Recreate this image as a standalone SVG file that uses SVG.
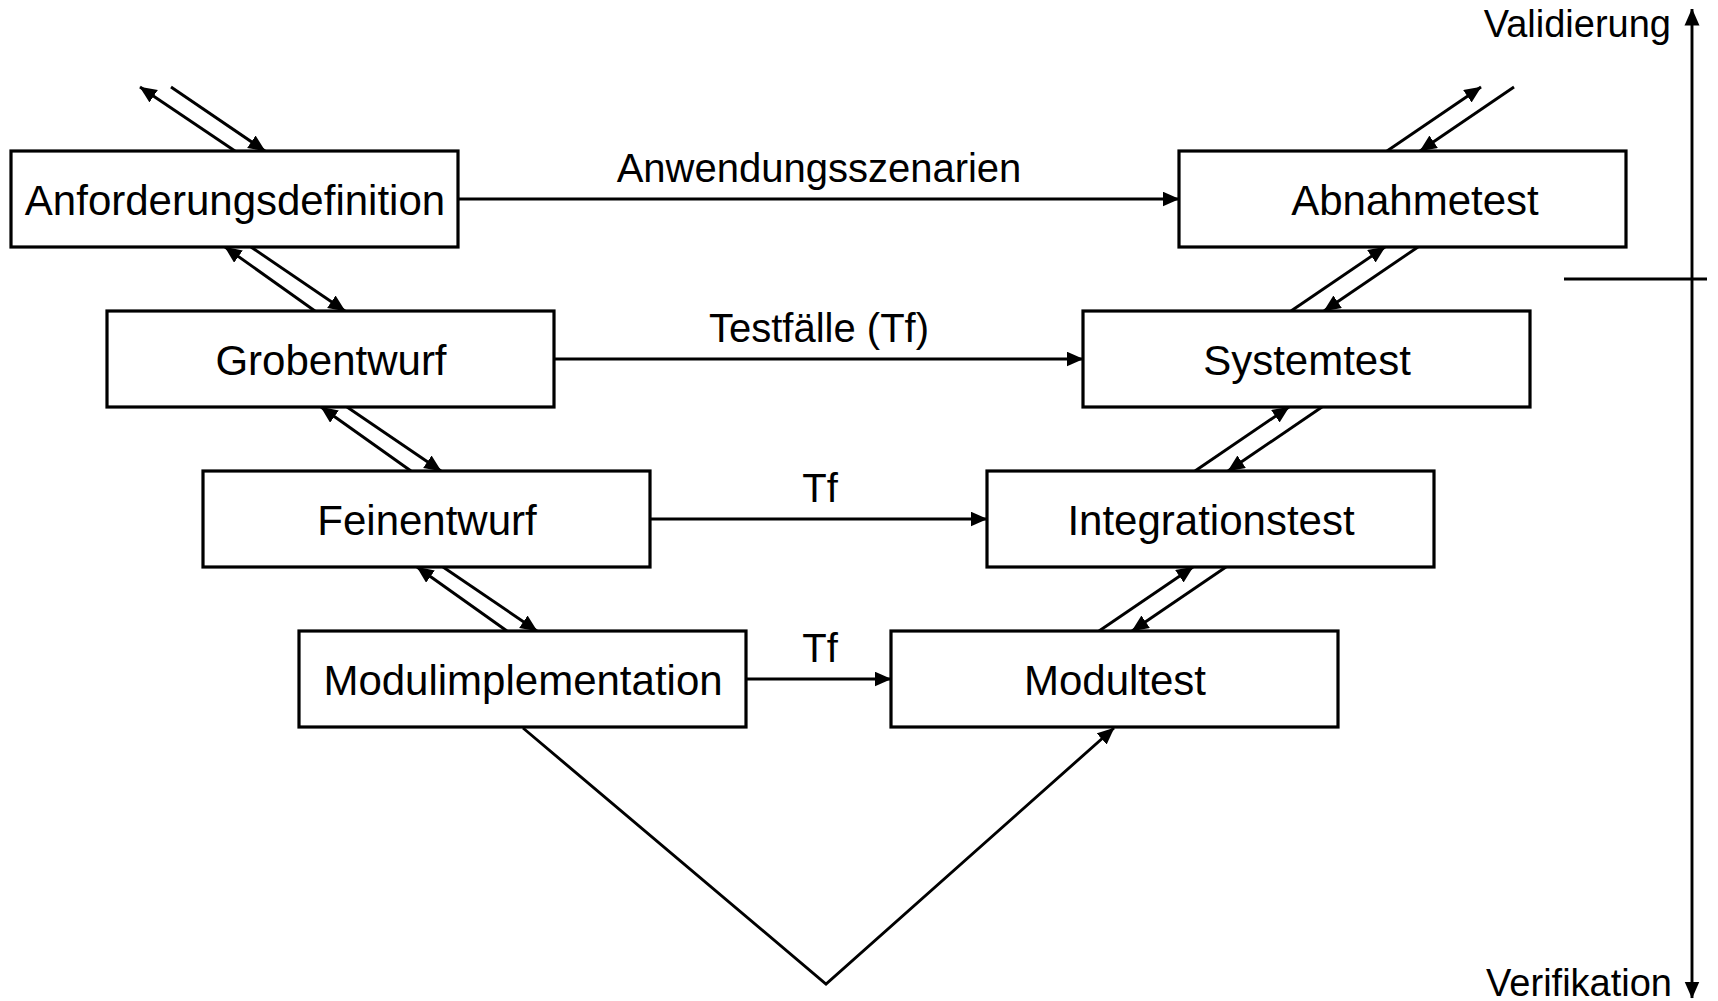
<svg xmlns="http://www.w3.org/2000/svg" width="1718" height="1001" viewBox="0 0 1718 1001">
<style>
.box{fill:#fff;stroke:#000;stroke-width:3.2}
.lbl{font-family:"Liberation Sans",Arial,sans-serif;font-size:42px;fill:#000;text-anchor:middle}
.edge{font-family:"Liberation Sans",Arial,sans-serif;font-size:40px;fill:#000;text-anchor:middle}
.axis{font-family:"Liberation Sans",Arial,sans-serif;font-size:38px;fill:#000;text-anchor:end}
.ln{stroke:#000;stroke-width:2.9;fill:none}
.arr{marker-end:url(#ah)}
</style>
<defs>
<marker id="ah" markerUnits="userSpaceOnUse" markerWidth="18" markerHeight="16" refX="16.5" refY="7.5" orient="auto">
<path d="M0,0 L17,7.5 L0,15 z" fill="#000"/>
</marker>
<marker id="ahs" markerUnits="userSpaceOnUse" markerWidth="18" markerHeight="16" refX="0.5" refY="7.5" orient="auto">
<path d="M17,0 L0,7.5 L17,15 z" fill="#000"/>
</marker>
</defs>
<rect width="1718" height="1001" fill="#fff"/>

<g id="connectors">
<!-- horizontal -->
<line class="ln arr" x1="458" y1="199" x2="1179" y2="199"/>
<line class="ln arr" x1="554" y1="359" x2="1083" y2="359"/>
<line class="ln arr" x1="650" y1="519" x2="987" y2="519"/>
<line class="ln arr" x1="746" y1="679" x2="891" y2="679"/>
<!-- left diagonals -->
<line class="ln arr" x1="235" y1="151" x2="140" y2="87"/>
<line class="ln arr" x1="171" y1="87" x2="265" y2="151"/>
<line class="ln arr" x1="315" y1="311" x2="225" y2="247"/>
<line class="ln arr" x1="251" y1="247" x2="345" y2="311"/>
<line class="ln arr" x1="411" y1="471" x2="321" y2="407"/>
<line class="ln arr" x1="347" y1="407" x2="441" y2="471"/>
<line class="ln arr" x1="507" y1="631" x2="417" y2="567"/>
<line class="ln arr" x1="443" y1="567" x2="537" y2="631"/>
<!-- right diagonals -->
<line class="ln arr" x1="1387" y1="151" x2="1481" y2="87"/>
<line class="ln arr" x1="1514" y1="87" x2="1420" y2="151"/>
<line class="ln arr" x1="1291" y1="311" x2="1385" y2="247"/>
<line class="ln arr" x1="1418" y1="247" x2="1324" y2="311"/>
<line class="ln arr" x1="1195" y1="471" x2="1289" y2="407"/>
<line class="ln arr" x1="1322" y1="407" x2="1228" y2="471"/>
<line class="ln arr" x1="1099" y1="631" x2="1193" y2="567"/>
<line class="ln arr" x1="1226" y1="567" x2="1132" y2="631"/>
<!-- V -->
<polyline class="ln arr" points="523,728 826,984 1114,728"/>
<!-- axis -->
<line class="ln" x1="1692" y1="9" x2="1692" y2="998" marker-start="url(#ahs)" marker-end="url(#ah)"/>
<line class="ln" x1="1564" y1="279" x2="1707" y2="279"/>
</g>

<g id="edge-labels">
<text class="edge" x="819" y="182">Anwendungsszenarien</text>
<text class="edge" x="819" y="342">Testfälle (Tf)</text>
<text class="edge" x="820" y="502">Tf</text>
<text class="edge" x="820" y="662">Tf</text>
<text class="axis" x="1671" y="37">Validierung</text>
<text class="axis" x="1672" y="996">Verifikation</text>
</g>

<g id="n1"><rect class="box" x="11" y="151" width="447" height="96"/><text class="lbl" x="235" y="215">Anforderungsdefinition</text></g>
<g id="n2"><rect class="box" x="107" y="311" width="447" height="96"/><text class="lbl" x="331" y="375">Grobentwurf</text></g>
<g id="n3"><rect class="box" x="203" y="471" width="447" height="96"/><text class="lbl" x="427" y="535">Feinentwurf</text></g>
<g id="n4"><rect class="box" x="299" y="631" width="447" height="96"/><text class="lbl" x="523" y="695">Modulimplementation</text></g>
<g id="n5"><rect class="box" x="1179" y="151" width="447" height="96"/><text class="lbl" x="1415" y="215">Abnahmetest</text></g>
<g id="n6"><rect class="box" x="1083" y="311" width="447" height="96"/><text class="lbl" x="1307" y="375">Systemtest</text></g>
<g id="n7"><rect class="box" x="987" y="471" width="447" height="96"/><text class="lbl" x="1211" y="535">Integrationstest</text></g>
<g id="n8"><rect class="box" x="891" y="631" width="447" height="96"/><text class="lbl" x="1115" y="695">Modultest</text></g>
</svg>
